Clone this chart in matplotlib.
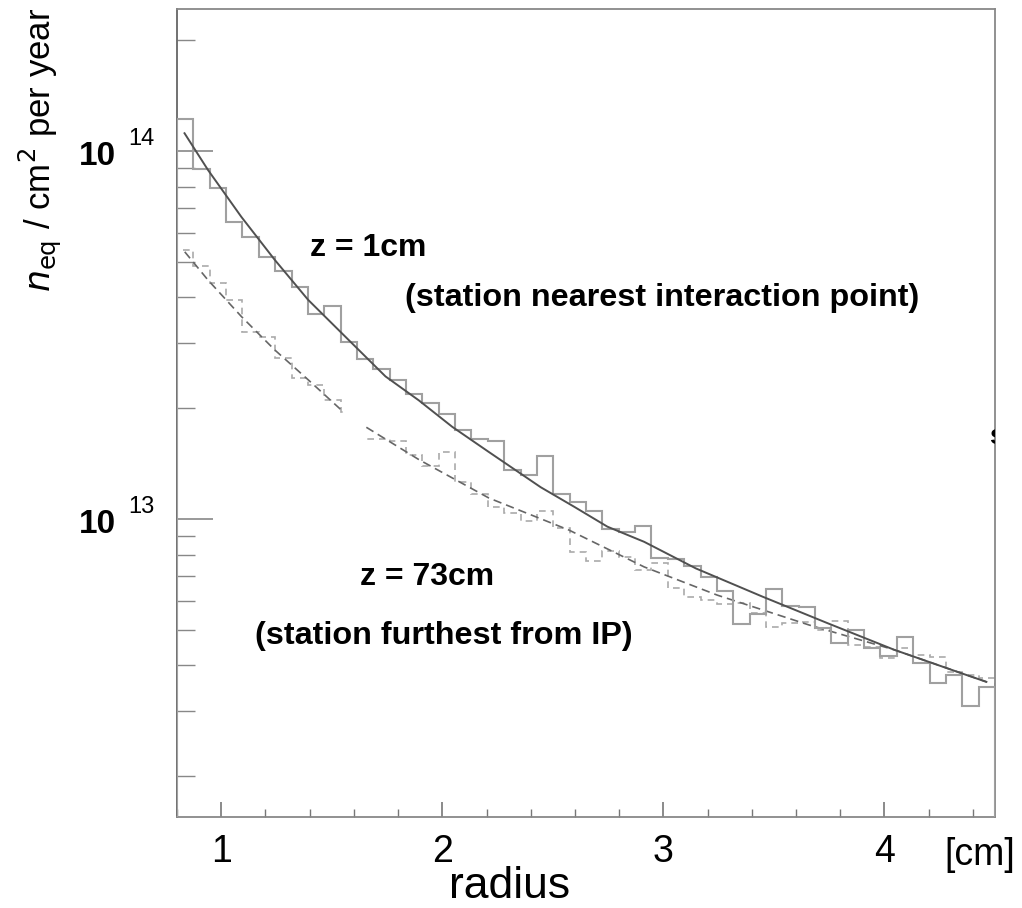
# Radiation dose vs radius for the two extreme pixel stations (z = 1cm and z = 73cm)

import numpy as np
import matplotlib.pyplot as plt
from matplotlib.ticker import FixedLocator, MultipleLocator, NullFormatter
from matplotlib.transforms import blended_transform_factory, offset_copy

plt.rcParams['font.family'] = ['Liberation Sans', 'DejaVu Sans']

# histogram binning, radius in cm
r_min, r_max, n_bins = 0.8, 4.5, 50
edges = np.linspace(r_min, r_max, n_bins + 1)
y_min, y_max = 1.55e12, 2.43e14

# bin contents, in units of 1e12 n_eq / cm^2 per year
near_hist = [122.2, 89.4, 79.3, 64.0, 58.5, 51.6, 47.3, 42.8, 36.1, 37.8,
             30.3, 27.2, 25.5, 23.8, 21.9, 20.6, 19.3, 17.5, 16.5, 16.3,
             13.6, 13.2, 14.8, 11.7, 11.1, 10.5, 9.40, 9.23, 9.55, 7.82,
             7.77, 7.43, 6.95, 6.37, 5.18, 5.52, 6.46, 5.79, 5.78, 5.05,
             4.61, 4.99, 4.46, 4.24, 4.78, 4.06, 3.58, 3.77, 3.10, 3.50]
far_hist = [53.8, 48.7, 43.8, 39.4, 32.3, 31.3, 27.4, 24.1, 23.1, 21.0,
            19.5, 16.5, 16.5, 16.3, 14.9, 13.9, 15.2, 12.6, 11.7, 10.8,
            10.4, 9.88, 10.5, 9.43, 8.15, 7.69, 8.19, 7.90, 7.27, 7.58,
            6.50, 6.13, 6.03, 5.88, 5.92, 5.56, 5.10, 5.22, 5.25, 4.99,
            5.29, 4.55, 4.50, 4.18, 4.45, 4.27, 4.22, 3.85, 3.77, 3.70]

# fitted curves
near_fit_r = [0.834, 0.940, 1.091, 1.242, 1.393, 1.592, 1.743, 1.894, 2.045, 2.211,
              2.445, 2.596, 2.747, 2.913, 3.147, 3.449, 3.743, 4.045, 4.348, 4.461]
near_fit = [111.7, 88.8, 66.2, 50.6, 39.4, 30.0, 24.4, 21.0, 17.8, 15.2,
            12.2, 10.8, 9.53, 8.67, 7.34, 6.15, 5.21, 4.41, 3.81, 3.61]
far_fit_r = [0.835, 0.940, 1.091, 1.242, 1.393, 1.542, 1.653, 1.894, 2.211,
             2.573, 2.913, 3.244, 3.660, 4.045, 4.461]
far_fit = [53.2, 44.6, 35.5, 28.8, 23.9, 19.8, 17.8, 14.5, 11.4,
           9.33, 7.41, 6.21, 5.15, 4.41, 3.61]

# blank patch in the far-station curve
gap_r = (1.555, 1.655)
gap_y = (15.5, 20.5)

scale = 1e12
near_hist = np.array(near_hist) * scale
far_hist = np.array(far_hist) * scale
near_fit = np.array(near_fit) * scale
far_fit = np.array(far_fit) * scale

fig = plt.figure(figsize=(10.22, 9.08), dpi=100)
ax = fig.add_axes([177 / 1022, 1 - 817 / 908, 818 / 1022, 808 / 908])
ax.set_yscale('log')

ax.stairs(far_hist, edges, baseline=1e11, color='#aaaaaa', lw=1.2,
          linestyle=(0, (4, 3)), zorder=2)
ax.plot(far_fit_r, far_fit, color='#666666', lw=1.2, linestyle=(0, (5, 3)), zorder=3)
ax.fill_between(gap_r, gap_y[0] * scale, gap_y[1] * scale, color='white', lw=0, zorder=4)
ax.stairs(near_hist, edges, baseline=1e11, color='#a0a0a0', lw=1.5, zorder=5)
ax.plot(near_fit_r, near_fit, color='#505050', lw=1.4, zorder=6)

ax.set_xlim(r_min, r_max)
ax.set_ylim(y_min, y_max)

for side in ['left', 'bottom', 'top', 'right']:
    ax.spines[side].set_color('#888888')
    ax.spines[side].set_linewidth(1.3)
ax.spines['left'].set_color('#666666')

# x axis ticks
ax.xaxis.set_major_locator(FixedLocator([1, 2, 3, 4]))
ax.xaxis.set_minor_locator(MultipleLocator(0.2))
ax.set_xticklabels(['1', '2', '3', '4'])
ax.tick_params(axis='x', which='major', direction='in', length=10.8, width=1.2,
               color='#777777', labelsize=27, pad=12, top=False)
ax.tick_params(axis='x', which='minor', direction='in', length=5.8, width=1.0,
               color='#777777', top=False)

# y axis ticks
y_major = [1e13, 1e14]
y_minor = [m * 10.0 ** e for e in (12, 13, 14) for m in range(2, 10)]
ax.yaxis.set_major_locator(FixedLocator(y_major))
ax.yaxis.set_minor_locator(FixedLocator(y_minor))
ax.yaxis.set_major_formatter(NullFormatter())
ax.yaxis.set_minor_formatter(NullFormatter())
ax.tick_params(axis='y', which='major', direction='in', length=26, width=1.2,
               color='#888888', right=False)
ax.tick_params(axis='y', which='minor', direction='in', length=12.7, width=1.0,
               color='#888888', right=False)

# y tick labels drawn as 10 with a raised exponent
ylab_tr = blended_transform_factory(fig.transFigure, ax.transData)
for val, exp in zip(y_major, ['13', '14']):
    ax.text(116 / 1022, val, '10', transform=offset_copy(ylab_tr, fig=fig, y=-6, units='dots'),
            ha='right', va='center', fontsize=24, fontweight='bold', clip_on=False)
    ax.text(128 / 1022, val, exp, transform=offset_copy(ylab_tr, fig=fig, y=6, units='dots'),
            ha='left', va='baseline', fontsize=17, clip_on=False)

# axis titles
fig.text(510 / 1022, 1 - 886 / 908, 'radius', ha='center', va='center', fontsize=32)
fig.text(1015 / 1022, 1 - 855 / 908, '[cm]', ha='right', va='center', fontsize=27)
fig.text(40 / 1022, 1 - 292 / 908, r'$n_{\mathrm{eq}}$ / cm$^{2}$ per year',
         rotation=90, ha='center', va='bottom', fontsize=25)

# annotations
fig.text(310 / 1022, 1 - 248 / 908, 'z = 1cm', ha='left', va='center',
         fontsize=23, fontweight='bold')
fig.text(405 / 1022, 1 - 298 / 908, '(station nearest interaction point)',
         ha='left', va='center', fontsize=23.3, fontweight='bold')
fig.text(360 / 1022, 1 - 577 / 908, 'z = 73cm', ha='left', va='center',
         fontsize=23, fontweight='bold')
fig.text(255 / 1022, 1 - 636 / 908, '(station furthest from IP)',
         ha='left', va='center', fontsize=23.3, fontweight='bold')
ax.text(4.475, 1.67e13, 's', ha='left', va='center', fontsize=20, fontweight='bold',
        clip_on=True)

fig.savefig('out.png', dpi=100)
